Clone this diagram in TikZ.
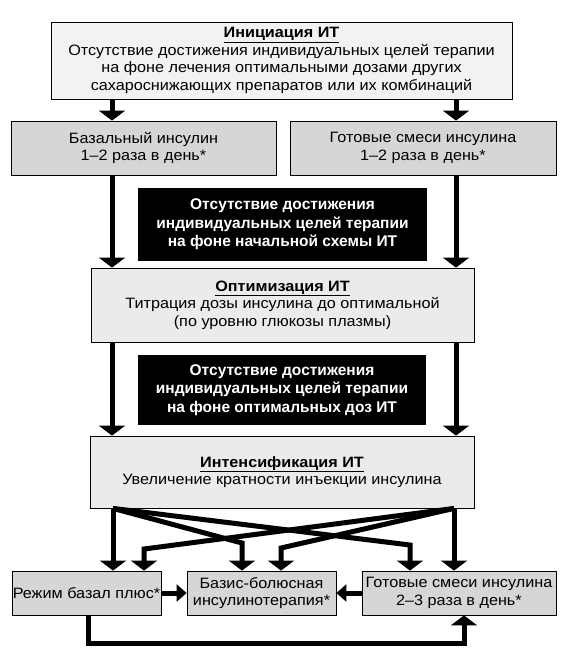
\documentclass[tikz,border=0pt]{standalone}
\usepackage{fontspec}
\setmainfont{Liberation Sans}[FakeStretch=1.08]
\newfontfamily\bkfont{Liberation Sans Bold}
\usetikzlibrary{arrows.meta}
\definecolor{topfill}{HTML}{F2F2F2}
\definecolor{midfill}{HTML}{D6D6D6}
\definecolor{optfill}{HTML}{EBEBEB}
\tikzset{
  box/.style={draw=black, line width=0.8pt, inner sep=0pt, align=center,
    font=\fontsize{15}{17.5}\selectfont},
  blackbox/.style={fill=black, inner sep=0pt, align=center, text=white,
    font=\bkfont\fontsize{15.5}{18.5}\selectfont},
  arr/.style={line width=5pt, -{Triangle[width=26pt,length=10pt]}},
  harr/.style={line width=5pt, -{Triangle[width=17pt,length=10pt]}},
}
\begin{document}
\begin{tikzpicture}[x=1pt,y=-1pt]
\useasboundingbox (0,0) rectangle (564,651);
% boxes
\node[box, fill=topfill, minimum width=461pt, minimum height=77pt] (top) at (281.5,60.5)
  {\underline{\textbf{Инициация ИТ}}\\Отсутствие достижения индивидуальных целей терапии\\на фоне лечения оптимальными дозами других\\сахароснижающих препаратов или их комбинаций};
\node[box, fill=midfill, minimum width=265pt, minimum height=54pt] (lb) at (143.5,148)
  {Базальный инсулин\\1–2 раза в день*};
\node[box, fill=midfill, minimum width=266pt, minimum height=54pt] (rb) at (423,148)
  {Готовые смеси инсулина\\1–2 раза в день*};
\node[blackbox, minimum width=289pt, minimum height=73pt] (bk1) at (282.5,224.5)
  {Отсутствие достижения\\индивидуальных целей терапии\\на фоне начальной схемы ИТ};
\node[box, fill=optfill, minimum width=383pt, minimum height=74pt] (opt) at (282.5,305)
  {\underline{\textbf{Оптимизация ИТ}}\\Титрация дозы инсулина до оптимальной\\(по уровню глюкозы плазмы)};
\node[blackbox, minimum width=288pt, minimum height=70pt] (bk2) at (282,390)
  {Отсутствие достижения\\индивидуальных целей терапии\\на фоне оптимальных доз ИТ};
\node[box, fill=optfill, minimum width=384pt, minimum height=72pt] (int) at (282,472)
  {\underline{\textbf{Интенсификация ИТ}}\\Увеличение кратности инъекции инсулина};
\node[box, fill=midfill, minimum width=149pt, minimum height=44pt] (bl) at (86.5,593)
  {Режим базал плюс*};
\node[box, fill=midfill, minimum width=149pt, minimum height=44pt] (bm) at (261.5,593)
  {Базис-болюсная\\инсулинотерапия*};
\node[box, fill=midfill, minimum width=194pt, minimum height=44pt] (br) at (459,593)
  {Готовые смеси инсулина\\2–3 раза в день*};
% column coordinates
\coordinate (xl) at (112,0);
\coordinate (xr) at (456,0);
\coordinate (dl) at (113,0);
\coordinate (dr) at (454,0);
\coordinate (k1) at (242,543);
\coordinate (k2) at (410,545);
\coordinate (k3) at (281,548);
\coordinate (k4) at (144,549);
\coordinate (lp) at (88,643);
\coordinate (rp) at (464,643);
% arrows
\draw[arr] (top.south -| xl) -- (lb.north -| xl);
\draw[arr] (top.south -| xr) -- (rb.north -| xr);
\draw[arr] (lb.south -| xl) -- (opt.north -| xl);
\draw[arr] (rb.south -| xr) -- (opt.north -| xr);
\draw[arr] (opt.south -| xl) -- (int.north -| xl);
\draw[arr] (opt.south -| xr) -- (int.north -| xr);
\draw[arr] (int.south -| dl) -- (bl.north -| dl);
\draw[arr] (int.south -| dl) -- (k1) -- (bm.north -| k1);
\draw[arr] (int.south -| dl) -- (k2) -- (br.north -| k2);
\draw[arr] (int.south -| dr) -- (br.north -| dr);
\draw[arr] (int.south -| dr) -- (k3) -- (bm.north -| k3);
\draw[arr] (int.south -| dr) -- (k4) -- (bl.north -| k4);
\draw[harr] (bl.east) -- (bm.west);
\draw[harr] (br.west) -- (bm.east);
\draw[arr] (bl.south -| lp) -- (lp) -- (rp) -- (br.south -| rp);
\end{tikzpicture}
\end{document}
